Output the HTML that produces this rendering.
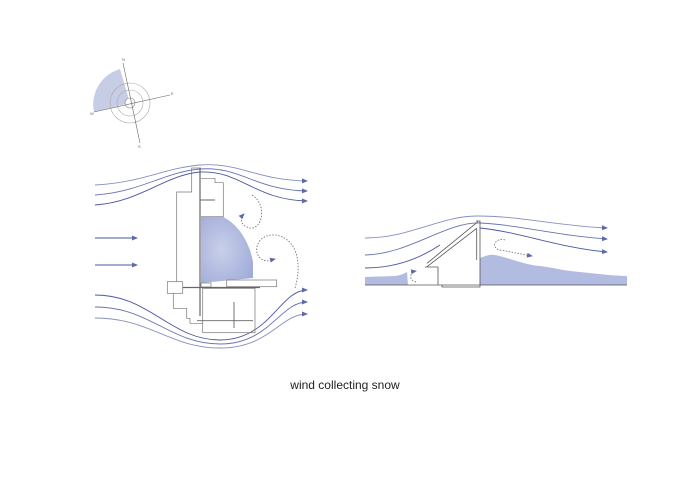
<!DOCTYPE html>
<html><head><meta charset="utf-8"><style>
html,body{margin:0;padding:0;background:#fff;width:700px;height:495px;overflow:hidden}
svg{display:block}
</style></head><body>
<svg width="700" height="495" viewBox="0 0 700 495" xmlns="http://www.w3.org/2000/svg">
<defs>
<marker id="ah" markerWidth="6" markerHeight="6" refX="5" refY="3" orient="auto" markerUnits="userSpaceOnUse"><path d="M0,0.5 L6,3 L0,5.5 z" fill="#5d6aa8"/></marker>
<radialGradient id="sg" cx="0.4" cy="0.5" r="0.7"><stop offset="0" stop-color="#c9d0ea"/><stop offset="1" stop-color="#9fabd8"/></radialGradient>
</defs>

<!-- wind rose -->
<g transform="translate(130,103)">
<path d="M0,0 L-36,9 A37,37 0 0 1 -10,-34 z" fill="#c8cde6"/>
<circle r="20" fill="none" stroke="#aaa" stroke-width="0.6"/>
<circle r="13" fill="none" stroke="#aaa" stroke-width="0.6"/>
<circle r="5" fill="#fff" stroke="#888" stroke-width="0.6"/>
<line x1="-7" y1="-40" x2="10" y2="40" stroke="#666" stroke-width="0.6"/>
<line x1="-36" y1="9" x2="40" y2="-8" stroke="#666" stroke-width="0.6"/>
<text x="-8" y="-42" font-size="4" fill="#666" font-family="Liberation Sans,sans-serif">N</text>
<text x="41" y="-8" font-size="4" fill="#666" font-family="Liberation Sans,sans-serif">E</text>
<text x="8" y="45" font-size="4" fill="#666" font-family="Liberation Sans,sans-serif">S</text>
<text x="-40" y="12" font-size="4" fill="#666" font-family="Liberation Sans,sans-serif">W</text>
</g>

<!-- plan: top wind -->
<g fill="none" stroke-width="0.9">
<path d="M95,185 C140,183 165,168 200,165 C240,162 255,180 307,181" stroke="#8890c0" marker-end="url(#ah)"/>
<path d="M95,195 C140,192 165,172 200,169 C240,166 255,190 307,191" stroke="#6a74b0" marker-end="url(#ah)"/>
<path d="M95,205 C140,202 165,175 200,172 C240,170 255,200 307,201" stroke="#4b57a0" marker-end="url(#ah)"/>
<path d="M95,295 C150,295 170,340 220,340 C270,340 280,290 307,290" stroke="#4b57a0" marker-end="url(#ah)"/>
<path d="M95,307 C150,307 170,344 220,344 C270,344 280,302 307,302" stroke="#6a74b0" marker-end="url(#ah)"/>
<path d="M95,318 C150,318 170,348 220,348 C270,348 280,314 307,314" stroke="#8890c0" marker-end="url(#ah)"/>
<line x1="95" y1="238" x2="137" y2="238" stroke="#4b57a0" marker-end="url(#ah)"/>
<line x1="95" y1="265" x2="137" y2="265" stroke="#4b57a0" marker-end="url(#ah)"/>
</g>
<!-- snow blob -->
<path d="M201,217 L223,217 C240,225 250,245 253,262 L253,278 L201,283 z" fill="url(#sg)"/>
<!-- building plan -->
<g fill="none" stroke="#777" stroke-width="0.7">
<path d="M201,168 L191.7,168 L191.7,192 L176.7,192 L176.7,281.7"/>
<rect x="167.3" y="281.7" width="15.4" height="11.6"/>
<path d="M173.3,293.3 L173.3,308.3 L186.7,308.3 L186.7,318.3 L190,318.3 L190,323.3 L202.7,323.3"/>
<path d="M201,178.3 L215,178.3 L215,182.7 L223.3,182.7 L223.3,216.7 L201,216.7"/>
<rect x="202.7" y="288.3" width="52.3" height="44.4"/>
<rect x="226.7" y="280" width="50" height="6.7"/>
<rect x="201" y="283" width="10" height="4"/>
</g>
<g stroke="#666" stroke-width="1.2">
<line x1="200" y1="168" x2="200" y2="316"/>
<line x1="183" y1="287.5" x2="260" y2="287.5"/>
<line x1="197" y1="320.7" x2="253" y2="320.7" stroke-width="0.9"/>
<line x1="234" y1="302" x2="234" y2="328" stroke-width="0.9"/>
<line x1="200" y1="200" x2="215" y2="200" stroke-width="1"/>
</g>
<!-- dotted eddies -->
<g fill="none" stroke="#666" stroke-width="0.8" stroke-dasharray="1.5,1.5">
<path d="M252,195 C268,205 262,230 250,228 C240,226 240,218 244,214" marker-end="url(#ah)"/>
<path d="M295,288 C302,265 298,238 275,235 C255,234 252,255 263,260 C267,262 271,260 275,259" marker-end="url(#ah)"/>
</g>

<!-- section -->
<path d="M365,277 L395,276 C402,275 405,273 407,272 L408,285 L365,285 z" fill="#b2bbe0"/>
<path d="M480,258 C485,256 490,254 495,255 C510,258 525,265 540,266 C555,268 565,271 580,272 C600,274 615,276 627,276 L627,285 L480,285 z" fill="#b2bbe0"/>
<g fill="none" stroke-width="0.9">
<path d="M365,238 C410,238 440,216 477,216 C520,216 560,226 607,228" stroke="#8890c0" marker-end="url(#ah)"/>
<path d="M365,255 C410,254 445,222 480,223 C520,225 560,236 607,239" stroke="#6a74b0" marker-end="url(#ah)"/>
<path d="M365,268 C400,268 425,255 440,245" stroke="#4b57a0"/>
<path d="M480,228 C520,232 560,248 607,252" stroke="#4b57a0" marker-end="url(#ah)"/>
</g>
<g fill="none" stroke="#555" stroke-width="0.8">
<line x1="365" y1="285" x2="627" y2="285"/>
<path d="M425,267 L438,267 L438,285 M442,285 L442,287 L480,287 L480,221 L476,221"/>
<line x1="427" y1="266.7" x2="476.7" y2="228.3"/>
<line x1="427" y1="263.3" x2="478" y2="221.7"/>
<line x1="476.7" y1="228.3" x2="476.7" y2="260"/>
</g>
<g fill="none" stroke="#666" stroke-width="0.8" stroke-dasharray="1.5,1.5">
<path d="M505,240 C495,237 490,248 500,250 C512,252 520,254 532,256" marker-end="url(#ah)"/>
<path d="M416,282 C408,280 410,272 416,271" marker-end="url(#ah)"/>
</g>

<text x="345" y="389" text-anchor="middle" font-family="Liberation Sans,sans-serif" font-size="12" fill="#222">wind collecting snow</text>
</svg>
</body></html>
